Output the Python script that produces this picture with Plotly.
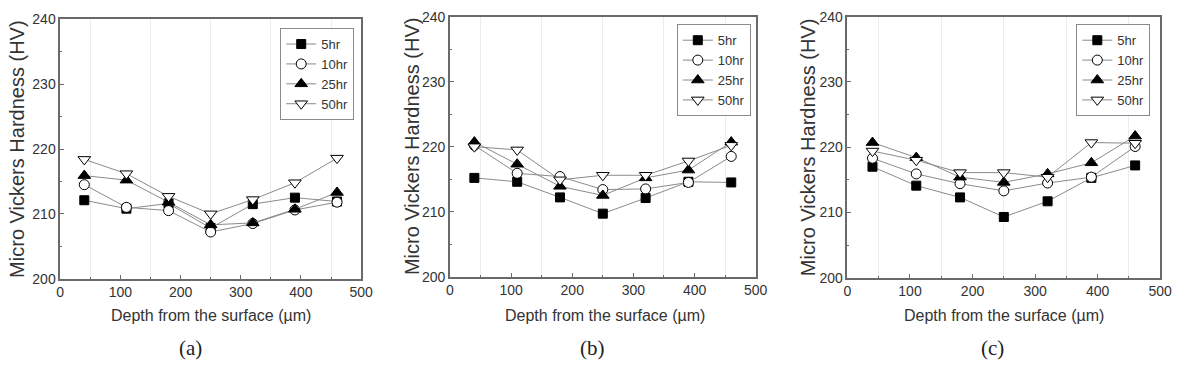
import plotly.graph_objects as go

depth = [40, 110, 180, 250, 320, 390, 460]
series_names = ["5hr", "10hr", "25hr", "50hr"]

a_5hr = [212.1, 210.8, 211.6, 207.8, 211.5, 212.5, 211.9]
a_10hr = [214.5, 211.0, 210.5, 207.2, 208.5, 210.6, 211.8]
a_25hr = [215.9, 215.2, 211.8, 208.3, 208.6, 210.7, 213.3]
a_50hr = [218.4, 216.2, 212.7, 210.0, 212.2, 214.8, 218.6]

b_5hr = [215.2, 214.6, 212.2, 209.7, 212.1, 214.6, 214.5]
b_10hr = [220.2, 215.9, 215.4, 213.4, 213.5, 214.5, 218.5]
b_25hr = [220.7, 217.3, 213.9, 212.5, 215.2, 216.4, 220.7]
b_50hr = [220.0, 219.5, 214.9, 215.6, 215.6, 217.8, 220.2]

c_5hr = [217.0, 214.1, 212.3, 209.3, 211.7, 215.3, 217.2]
c_10hr = [218.3, 215.9, 214.4, 213.3, 214.5, 215.4, 220.1]
c_25hr = [220.7, 218.4, 215.4, 214.6, 215.9, 217.6, 221.7]
c_50hr = [219.4, 218.0, 216.1, 216.1, 215.4, 220.7, 220.6]

panels = [
    ("(a)", [a_5hr, a_10hr, a_25hr, a_50hr]),
    ("(b)", [b_5hr, b_10hr, b_25hr, b_50hr]),
    ("(c)", [c_5hr, c_10hr, c_25hr, c_50hr]),
]

W, H = 1185, 366
# plot-area pixel boxes (left, right, top, bottom)
boxes = [(57, 362, 12, 283), (452, 762, 9, 281), (855, 1172, 9, 282)]
legend_pos = [(280, 21), (682, 17), (1087, 17)]
ytitle_x = [13, 413, 815]
xtitle_x = [210, 609, 1014]
caption_x = [189, 597, 1002]

markers = [
    dict(symbol="square", size=9, color="black", line=dict(color="black", width=1)),
    dict(symbol="circle", size=10, color="white", line=dict(color="black", width=1)),
    dict(symbol="triangle-up", size=11, color="black", line=dict(color="black", width=1)),
    dict(symbol="triangle-down", size=11, color="white", line=dict(color="black", width=1)),
]

regular = "Liberation Sans, Arial, sans-serif"
txt = "#333333"

fig = go.Figure()
layout = dict(
    width=W, height=H, margin=dict(l=0, r=0, t=0, b=0),
    paper_bgcolor="white", plot_bgcolor="white", annotations=[],
)

for i, (cap, data) in enumerate(panels):
    sfx = "" if i == 0 else str(i + 1)
    L, R, T, B = boxes[i]
    legname = "legend" + sfx
    for name, ys, mk in zip(series_names, data, markers):
        fig.add_trace(go.Scatter(
            x=depth, y=ys, name=name, mode="lines+markers",
            line=dict(color="#8a8a8a", width=1), marker=mk,
            xaxis="x" + sfx, yaxis="y" + sfx, legend=legname,
        ))
    axcommon = dict(
        showline=True, linecolor="#6a6a6a", linewidth=1.5, mirror=True,
        ticks="inside", ticklen=4, tickcolor="#6a6a6a", tickwidth=1,
        zeroline=False, tickfont=dict(family=regular, size=14, color=txt),
    )
    layout["xaxis" + sfx] = dict(
        axcommon, domain=[L / W, R / W], anchor="y" + sfx, range=[0, 500],
        tickvals=[0, 100, 200, 300, 400, 500], showgrid=False,
        minor=dict(tickvals=[50, 150, 250, 350, 450], ticks="inside", ticklen=2,
                   tickcolor="#6a6a6a", showgrid=True, gridcolor="#ececec", gridwidth=1),
    )
    layout["yaxis" + sfx] = dict(
        axcommon, domain=[1 - B / H, 1 - T / H], anchor="x" + sfx, range=[200, 240],
        tickvals=[200, 210, 220, 230, 240], showgrid=False,
        minor=dict(tickvals=[205, 215, 225, 235], ticks="inside", ticklen=2, tickcolor="#6a6a6a"),
    )
    lx, ly = legend_pos[i]
    layout[legname] = dict(
        x=lx / W, y=1 - ly / H, xanchor="left", yanchor="top",
        bordercolor="#8a8a8a", borderwidth=1, bgcolor="white",
        font=dict(family=regular, size=13, color=txt), itemwidth=30, tracegroupgap=0,
    )
    layout["annotations"] += [
        dict(text="Micro Vickers Hardness (HV)", textangle=-90, xref="paper", yref="paper",
             x=ytitle_x[i] / W, y=1 - ((T + B) / 2) / H, showarrow=False,
             font=dict(family=regular, size=20, color=txt), xanchor="center", yanchor="middle"),
        dict(text="Depth from the surface (\u00b5m)", xref="paper", yref="paper",
             x=xtitle_x[i] / W, y=1 - 322 / H, showarrow=False,
             font=dict(family=regular, size=16, color=txt), xanchor="center", yanchor="middle"),
        dict(text=cap, xref="paper", yref="paper",
             x=caption_x[i] / W, y=1 - 356 / H, showarrow=False,
             font=dict(family="Liberation Serif, Times New Roman, serif", size=21, color="#222"),
             xanchor="center", yanchor="middle"),
    ]

fig.update_layout(**layout)
fig.write_html("out.html")
